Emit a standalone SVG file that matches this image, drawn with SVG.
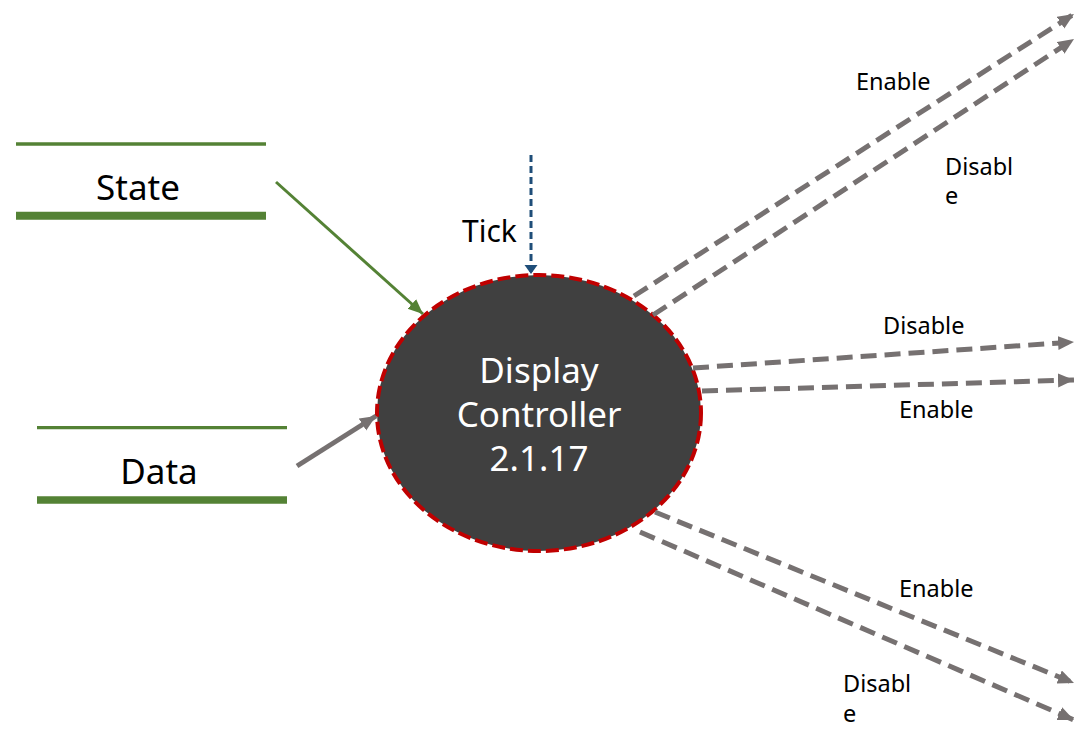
<svg xmlns="http://www.w3.org/2000/svg" width="1074" height="729" viewBox="0 0 1074 729">
<style>
text{font-family:"Noto Sans","Open Sans","Liberation Sans",sans-serif;fill:#000}
.store{stroke:#548235;fill:none}
.out{stroke:#767171;stroke-width:5;stroke-dasharray:16 8;fill:none;marker-end:url(#gh)}
.lbl{font-size:23.5px}
.big{font-size:35px}
</style>
<defs>
<marker id="gh" markerUnits="userSpaceOnUse" markerWidth="20" markerHeight="16" refX="16" refY="7" orient="auto">
<path d="M0,0 L16,7 L0,14 Z" fill="#767171"/>
</marker>
<marker id="grh" markerUnits="userSpaceOnUse" markerWidth="18" markerHeight="16" refX="15" refY="6.5" orient="auto">
<path d="M0,0 L15,6.5 L0,13 Z" fill="#548235"/>
</marker>
<marker id="dh" markerUnits="userSpaceOnUse" markerWidth="20" markerHeight="18" refX="16" refY="7" orient="auto">
<path d="M0,0 L16,7 L0,14 Z" fill="#767171"/>
</marker>
<marker id="bh" markerUnits="userSpaceOnUse" markerWidth="14" markerHeight="16" refX="9" refY="6.5" orient="auto">
<path d="M0,0 L9,6.5 L0,13 Z" fill="#1F4E79"/>
</marker>
</defs>

<g id="store-state">
<line class="store" x1="16" y1="144" x2="266" y2="144" stroke-width="3.3"/>
<line class="store" x1="16" y1="215.7" x2="266" y2="215.7" stroke-width="8"/>
<text class="big" x="138" y="200" text-anchor="middle">State</text>
</g>

<g id="store-data">
<line class="store" x1="37" y1="427.7" x2="287" y2="427.7" stroke-width="3.3"/>
<line class="store" x1="37" y1="500" x2="287" y2="500" stroke-width="7.7"/>
<text class="big" x="159" y="484" text-anchor="middle">Data</text>
</g>

<g id="process">
<ellipse cx="539" cy="413" rx="162" ry="138" fill="#404040" stroke="#C00000" stroke-width="4" stroke-dasharray="13 5"/>
<text class="big" x="539" y="383" text-anchor="middle" style="fill:#fff">Display</text>
<text class="big" x="539" y="427" text-anchor="middle" style="fill:#fff">Controller</text>
<text class="big" x="539" y="471" text-anchor="middle" style="fill:#fff">2.1.17</text>
</g>

<g id="connectors">
<line x1="276" y1="182" x2="423" y2="314" stroke="#548235" stroke-width="3" marker-end="url(#grh)"/>
<line x1="297" y1="466" x2="376" y2="416" stroke="#767171" stroke-width="5" marker-end="url(#dh)"/>
<line x1="531" y1="155" x2="531" y2="274" stroke="#1F4E79" stroke-width="3" stroke-dasharray="7 4" marker-end="url(#bh)"/>
<line class="out" x1="634" y1="296" x2="1074" y2="14"/>
<line class="out" x1="653" y1="315" x2="1074" y2="39"/>
<line class="out" x1="693" y1="368" x2="1074" y2="342"/>
<line class="out" x1="702" y1="391" x2="1074" y2="380"/>
<line class="out" x1="655" y1="512" x2="1074" y2="683"/>
<line class="out" x1="640" y1="532" x2="1074" y2="720"/>
</g>

<g id="labels">
<text x="462" y="242" style="font-size:30px">Tick</text>
<text class="lbl" x="856" y="90">Enable</text>
<text class="lbl"><tspan x="945" y="175">Disabl</tspan><tspan x="945" y="204">e</tspan></text>
<text class="lbl" x="883" y="334">Disable</text>
<text class="lbl" x="899" y="418">Enable</text>
<text class="lbl" x="899" y="597">Enable</text>
<text class="lbl"><tspan x="843" y="692">Disabl</tspan><tspan x="843" y="722">e</tspan></text>
</g>
</svg>
